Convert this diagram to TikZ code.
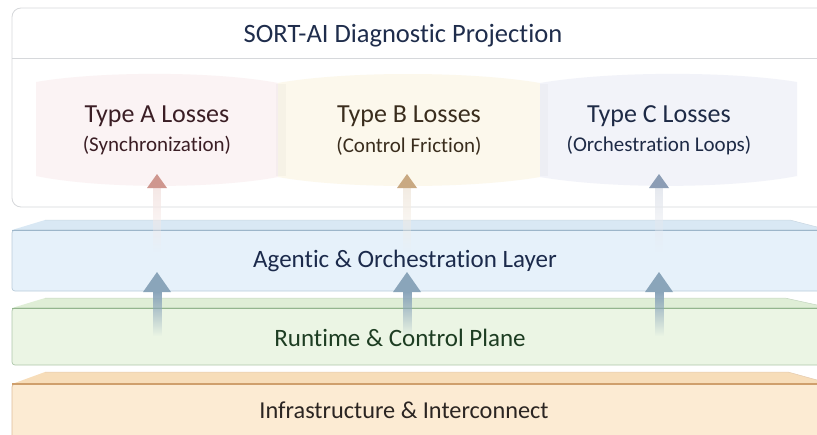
\documentclass[tikz,border=0pt]{standalone}
\usepackage{fontspec}
\setmainfont{Carlito}[Ligatures=NoCommon]
\usetikzlibrary{fadings}

\definecolor{framegray}{HTML}{D6D8DB}
\definecolor{titleink}{HTML}{1F2D4C}
\definecolor{lossA}{HTML}{FBF3F4}
\definecolor{lossB}{HTML}{FCF8EC}
\definecolor{lossC}{HTML}{F2F3F9}
\definecolor{inkA}{HTML}{3B1E25}
\definecolor{inkB}{HTML}{3A2D1D}
\definecolor{inkC}{HTML}{1E2A46}
\definecolor{headA}{HTML}{CF978F}
\definecolor{headB}{HTML}{C9A982}
\definecolor{headC}{HTML}{8C9DB5}
\definecolor{blueFront}{HTML}{E6F1FA}
\definecolor{blueTop}{HTML}{D9E8F4}
\definecolor{blueLine}{HTML}{9DB6CA}
\definecolor{blueInk}{HTML}{1B2A4B}
\definecolor{greenFront}{HTML}{EBF5E4}
\definecolor{greenTop}{HTML}{DFEED6}
\definecolor{greenLine}{HTML}{93B58D}
\definecolor{greenInk}{HTML}{1D3D22}
\definecolor{orangeFront}{HTML}{FCEBD3}
\definecolor{orangeTop}{HTML}{F7DDB9}
\definecolor{orangeLine}{HTML}{CF9F6C}
\definecolor{orangeInk}{HTML}{2B2522}
\definecolor{liftBlue}{HTML}{8AA5BA}

\tikzfading[name=fadedown, top color=transparent!0, bottom color=transparent!100]

\tikzset{
  titletext/.style={font=\fontsize{26.5}{30}\selectfont, text=titleink},
  losshead/.style={font=\fontsize{26}{30}\selectfont},
  losssub/.style={font=\fontsize{21}{25}\selectfont},
  layertext/.style={font=\fontsize{25}{29}\selectfont},
}

% upward arrow: #1 x, #2 tip y, #3 base y, #4 head half width,
% #5 shaft half width, #6 shaft end y, #7 head colour, #8 shaft colour
\newcommand{\liftarrow}[8]{%
  \fill[#8, path fading=fadedown] (#1-#5,#3) rectangle (#1+#5,#6);
  \fill[#7] (#1,#2) -- (#1+#4,#3) -- (#1-#4,#3) -- cycle;
}

\begin{document}
\begin{tikzpicture}[x=1pt,y=-1pt]
\useasboundingbox (0,0) rectangle (817,434);
\clip (0,0) rectangle (817,434);

% diagnostic projection frame
\draw[framegray, fill=white, line width=0.8pt, rounded corners=9pt]
  (12,8) -- (840,8) -- (840,207) -- (12,207) -- cycle;
\draw[framegray, line width=0.6pt] (12,58) -- (817,58);
\node[titletext] (title) at (403,36) {SORT-AI Diagnostic Projection};

% loss blocks
\fill[lossA] (36,82) .. controls (100,71) and (215,71) .. (278,83)
  -- (278,177) .. controls (215,189) and (100,189) .. (36,176) -- cycle;
\fill[lossB] (278,83) .. controls (345,71) and (470,71) .. (540,83)
  -- (540,177) .. controls (470,189) and (345,189) .. (278,177) -- cycle;
\fill[lossC] (540,83) .. controls (610,71) and (730,71) .. (797,82)
  -- (797,176) .. controls (730,189) and (610,189) .. (540,177) -- cycle;
\fill[black, opacity=0.025] (276,84) rectangle (286,176);
\fill[black, opacity=0.02] (540,84) rectangle (548,176);

\node[losshead, text=inkA] (ta) at (157,116) {Type A Losses};
\node[losssub,  text=inkA] (sa) at (157,146) {(Synchronization)};
\node[losshead, text=inkB] (tb) at (409,116) {Type B Losses};
\node[losssub,  text=inkB] (sb) at (409,146) {(Control Friction)};
\node[losshead, text=inkC] (tc) at (659,116) {Type C Losses};
\node[losssub,  text=inkC] (sc) at (659,146) {(Orchestration Loops)};

% agentic & orchestration layer
\fill[blueTop] (12,230) -- (45,220) -- (790,220) -- (817,227) -- (817,230) -- cycle;
\draw[blueLine!55, line width=0.5pt] (45,220) -- (790,220) -- (817,227);
\draw[blueLine!70, fill=blueFront, line width=0.7pt, rounded corners=3pt]
  (12,230) rectangle (840,291);
\draw[blueLine, line width=0.9pt] (12,230) -- (817,230);
\node[layertext, text=blueInk] (agentic) at (405,261) {Agentic \& Orchestration Layer};

% runtime & control plane
\fill[greenTop] (12,308) -- (45,298) -- (785,298) -- (817,305) -- (817,308) -- cycle;
\draw[greenLine!55, line width=0.5pt] (45,298) -- (785,298) -- (817,305);
\draw[greenLine!75, fill=greenFront, line width=0.7pt, rounded corners=3pt]
  (12,308) rectangle (840,365);
\draw[greenLine, line width=0.9pt] (12,308) -- (817,308);
\node[layertext, text=greenInk] (runtime) at (400,338) {Runtime \& Control Plane};

% infrastructure & interconnect
\fill[orangeTop] (12,384) -- (45,372) -- (788,372) -- (817,380) -- (817,384) -- cycle;
\draw[orangeLine!55, line width=0.5pt] (45,372) -- (788,372) -- (817,380);
\draw[orangeLine!70, fill=orangeFront, line width=0.7pt, rounded corners=3pt]
  (12,384) rectangle (840,460);
\draw[orangeLine, line width=1.1pt] (12,384) -- (817,384);
\node[layertext, font=\fontsize{24.3}{28}\selectfont, text=orangeInk] (infra) at (404,410) {Infrastructure \& Interconnect};

% projection arrows into the loss blocks
\liftarrow{157}{174}{188}{10}{4}{252}{headA}{headA!22}
\liftarrow{407}{174}{188}{10}{4}{252}{headB}{headB!22}
\liftarrow{659}{174}{188}{10}{4}{252}{headC}{headC!22}

% runtime lifts into the agentic layer
\liftarrow{157}{272}{292}{14}{4.5}{336}{liftBlue}{liftBlue}
\liftarrow{407}{272}{292}{14}{4.5}{336}{liftBlue}{liftBlue}
\liftarrow{659}{272}{292}{14}{4.5}{336}{liftBlue}{liftBlue}
\end{tikzpicture}
\end{document}
